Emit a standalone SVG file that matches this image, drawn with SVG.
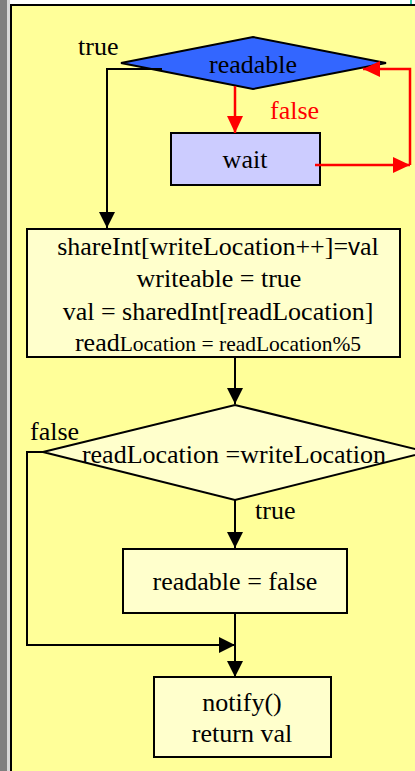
<svg xmlns="http://www.w3.org/2000/svg" width="415" height="771" viewBox="0 0 415 771" font-family="'Liberation Serif', 'Times New Roman', 'DejaVu Serif', serif">
<style>
  text { font-family: 'Liberation Serif', 'Times New Roman', 'DejaVu Serif', serif; font-size: 26px; fill: #000; }
  .mid { text-anchor: middle; }
  .red { fill: #ff0000; }
  .box { fill: #ffffcc; stroke: #000; stroke-width: 2; }
  .edge { fill: none; stroke: #000; stroke-width: 2; }
  .redge { fill: none; stroke: #ff0000; stroke-width: 2.5; }
  .sans { font-family: 'Liberation Sans', Arial, sans-serif; font-size: 24px; }
  .small { font-size: 21.5px; }
</style>
<defs>
  <marker id="ab" markerUnits="userSpaceOnUse" markerWidth="16" markerHeight="16" refX="16" refY="8" orient="auto">
    <path d="M0,0 L16,8 L0,16 z" fill="#000"/>
  </marker>
  <marker id="ar" markerUnits="userSpaceOnUse" markerWidth="17" markerHeight="16" refX="17" refY="8" orient="auto">
    <path d="M0,0 L17,8 L0,16 z" fill="#ff0000"/>
  </marker>
</defs>
<g id="background">
  <rect x="0" y="0" width="415" height="771" fill="#ffffff"/>
  <rect x="0" y="0" width="7" height="771" fill="#808080"/>
  <rect x="7" y="0" width="3" height="771" fill="#d8d8d8"/>
  <rect x="10" y="4" width="405" height="767" fill="#ffff99"/>
  <rect x="10" y="4" width="2" height="767" fill="#000"/>
  <rect x="10" y="4" width="405" height="2" fill="#000"/>
  <rect x="410" y="0" width="2" height="4" fill="#33ccaa"/>
</g>
<g id="readable-decision">
  <polygon points="121,63 253,37 386,63 253,89" fill="#3366ff" stroke="#000" stroke-width="2"/>
  <text class="mid" x="253" y="73">readable</text>
</g>
<g id="wait">
  <rect x="171" y="133" width="149" height="52" fill="#ccccff" stroke="#000" stroke-width="2"/>
  <text class="mid" x="245" y="168">wait</text>
</g>
<g id="share-box">
  <rect class="box" x="27" y="229" width="373" height="128"/>
  <text class="mid" x="218" y="255">shareInt[writeLocation++]=<tspan class="sans">v</tspan>al</text>
  <text class="mid" x="219" y="287">writeable = true</text>
  <text class="mid" x="218" y="320">val = sharedInt[readLocation]</text>
  <text class="mid" x="218" y="351">read<tspan class="small">Location = readLocation%5</tspan></text>
</g>
<g id="location-decision">
  <polygon points="43,452 235,405 427,452 235,500" fill="#ffffcc" stroke="#000" stroke-width="2"/>
  <text class="mid" x="234" y="463">readLocation =writeLocation</text>
</g>
<g id="readable-false">
  <rect class="box" x="123" y="549" width="224" height="64"/>
  <text class="mid" x="235" y="590">readable = false</text>
</g>
<g id="notify">
  <rect class="box" x="154" y="677" width="177" height="80"/>
  <text class="mid" x="242" y="711">notify()</text>
  <text class="mid" x="242" y="742">return val</text>
</g>
<g id="connectors">
  <path class="edge" d="M162,69 H107 V228" marker-end="url(#ab)"/>
  <path class="redge" d="M235,86 V133" marker-end="url(#ar)"/>
  <path class="redge" d="M315,165 H410" marker-end="url(#ar)"/>
  <path class="redge" d="M410,165 V69 H363" marker-end="url(#ar)"/>
  <path class="edge" d="M235,357 V404" marker-end="url(#ab)"/>
  <path class="edge" d="M235,500 V548" marker-end="url(#ab)"/>
  <path class="edge" d="M45,452 H27 V645 H235" marker-end="url(#ab)"/>
  <path class="edge" d="M235,613 V677" marker-end="url(#ab)"/>
</g>
<g id="labels">
  <text x="78" y="55">true</text>
  <text class="red" x="270" y="119">false</text>
  <text x="30" y="440">false</text>
  <text x="255" y="519">true</text>
</g>
</svg>
